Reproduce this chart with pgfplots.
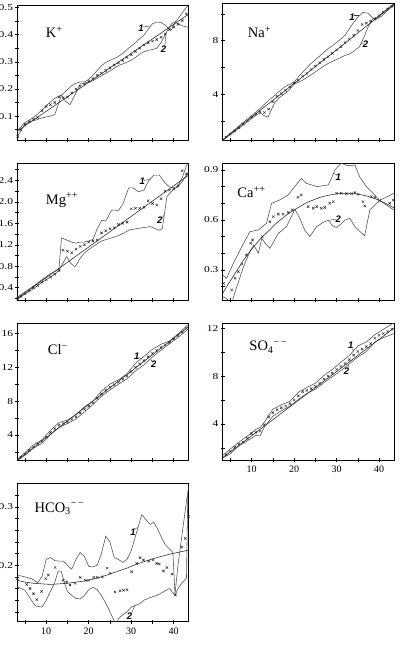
\documentclass[border=0pt]{standalone}
\usepackage{fontspec}
\setmainfont{Liberation Serif}
\newfontfamily\labfont{Liberation Sans}
\usepackage{graphicx}
\usepackage{pgfplots}
\pgfplotsset{compat=1.18}
\newcommand\sx[1]{\scalebox{1.28}[1]{#1}}

\pgfplotsset{
  panel/.style={
    scale only axis, width=171.3pt,
    xmin=3.2, xmax=43.5,
    xtick={10,20,30,40}, minor xtick={5,15,25,35}, xticklabels={},
    tick align=center, xtick pos=bottom, ytick pos=left,
    major tick length=4pt, minor tick length=4pt,
    tick style={black, line width=0.5pt},
    axis line style={black, line width=0.7pt},
    xticklabel style={font=\fontsize{10}{12}\selectfont, inner sep=1pt, yshift=-3pt},
    yticklabel style={font=\fontsize{9}{10}\selectfont, inner sep=2pt},
    /pgf/number format/assume math mode=true,
  },
  bnd/.style={no markers, line width=0.55pt, draw=black!70, line join=round},
  fitl/.style={no markers, line width=0.55pt, draw=black!85},
  pts/.style={only marks, mark=x, mark size=1.7pt, mark options={line width=0.45pt, draw=black!85}},
}
\tikzset{
  lab/.style={font=\labfont\bfseries\itshape\fontsize{9.5}{10}\selectfont, inner sep=0pt},
  ttl/.style={anchor=west, inner sep=0pt, font=\fontsize{14.5}{16}\selectfont},
  ldr/.style={line width=0.4pt, black!80},
}

\begin{document}
\begin{tikzpicture}

% ---------------- K+ ----------------
\begin{axis}[panel, at={(17.3pt,505pt)}, anchor=south west, height=135pt,
  ymin=0.012, ymax=0.509,
  ytick={0.1,0.2,0.3,0.4,0.5}, yticklabels={\sx{0.1},\sx{0.2},\sx{0.3},\sx{0.4},\sx{0.5}},
  minor ytick={0.05,0.15,0.25,0.35,0.45}]
\addplot[bnd] coordinates {(3.2,0.045) (4,0.06) (5,0.076) (6,0.085) (7,0.095) (8,0.108) (9,0.122) (10,0.138) (11,0.152) (12,0.165) (13,0.174) (13.6,0.177) (15,0.198) (16.5,0.218) (18,0.226) (19,0.226) (20,0.235) (21,0.25) (22,0.268) (23,0.285) (24,0.298) (25,0.305) (26,0.312) (27,0.32) (28,0.33) (29,0.345) (30,0.358) (31,0.37) (32,0.385) (33,0.398) (34,0.42) (35,0.44) (36,0.446) (37,0.445) (38,0.435) (38.8,0.423) (39.5,0.418) (40.4,0.447) (41,0.44) (42,0.433) (43,0.428) (43.5,0.426)};
\addplot[bnd] coordinates {(3.2,0.024) (4,0.045) (5,0.068) (6,0.078) (7,0.083) (8,0.088) (9,0.093) (10,0.097) (11,0.1) (12,0.105) (13,0.15) (13.6,0.177) (14.5,0.155) (15.6,0.142) (17,0.185) (18,0.218) (19,0.222) (20,0.225) (21,0.23) (22,0.24) (23,0.248) (24,0.258) (25,0.266) (26,0.276) (27,0.286) (28,0.292) (29,0.298) (30,0.306) (31,0.316) (32,0.328) (33,0.337) (34,0.342) (35,0.345) (36,0.35) (37,0.37) (38,0.4) (38.8,0.423) (39.5,0.44) (40.4,0.447) (41,0.458) (42,0.48) (43,0.5) (43.5,0.51)};
\addplot[fitl] coordinates {(3.2,0.045) (43.5,0.475)};
\addplot[pts] coordinates {(3.3,0.024) (4,0.05) (5,0.07) (6,0.08) (7,0.088) (8,0.095) (9,0.12) (10,0.135) (11,0.142) (12,0.15) (13,0.17) (14,0.168) (15,0.17) (16,0.185) (17,0.2) (18,0.21) (19,0.218) (20,0.228) (21,0.238) (22,0.25) (23,0.258) (24,0.268) (25,0.278) (26,0.288) (27,0.296) (28,0.305) (29,0.316) (30,0.326) (31,0.338) (32,0.35) (33,0.362) (34,0.37) (35,0.376) (36,0.382) (37,0.39) (38,0.402) (39,0.418) (40,0.428) (41,0.438) (42,0.452) (43,0.476)};
\node[ttl] at (rel axis cs:0.166,0.8) {K\textsuperscript{+}};
\node[lab] at (32.3,0.425) {1};
\draw[ldr] (32.8,0.428) -- (34.5,0.432);
\node[lab] at (37.6,0.345) {2};
\draw[ldr] (37.9,0.358) -- (38.2,0.405);
\end{axis}

% ---------------- Na+ ----------------
\begin{axis}[panel, at={(222.7pt,505pt)}, anchor=south west, height=136.7pt,
  ymin=0.6, ymax=10.78,
  ytick={4,8}, yticklabels={\sx{4},\sx{8}}, minor ytick={2,6,10}]
\addplot[bnd] coordinates {(3.2,0.62) (5,1.1) (8,1.9) (11,2.68) (12,2.95) (13,3.25) (14,3.55) (15,3.8) (16,4.1) (17,4.35) (18,4.6) (19,4.75) (20,4.9) (21,5.3) (22,5.65) (24,6.3) (26,6.85) (28,7.4) (30,7.85) (32,8.4) (33,8.9) (34,9.35) (35,9.75) (36.2,10.1) (37.4,10.04) (38.6,9.66) (39.5,9.75) (40.5,10.0) (42,10.4) (43.5,10.75)};
\addplot[bnd] coordinates {(3.2,0.58) (5,1.0) (8,1.7) (11,2.45) (12,2.62) (13,2.4) (13.9,2.3) (14.7,2.9) (15.5,3.4) (16.5,3.75) (18,4.1) (19,4.4) (20,4.75) (22,5.05) (24,5.45) (26,5.9) (28,6.3) (30,6.6) (32,6.9) (33,7.0) (34,7.2) (35.4,7.55) (36.5,8.3) (37.5,9.1) (38.6,9.66) (39.5,9.6) (40.5,9.8) (42,10.25) (43.5,10.65)};
\addplot[fitl] coordinates {(3.2,0.6) (43.5,10.7)};
\addplot[pts] coordinates {(3.3,0.62) (4,0.82) (5,1.05) (6,1.28) (7,1.52) (8,1.78) (9,2.05) (10,2.3) (11,2.52) (12,2.7) (13,2.65) (14,2.9) (15,3.45) (16,3.85) (17,4.05) (18,4.3) (19,4.55) (20,4.85) (21,5.05) (22,5.35) (23,5.55) (24,5.85) (25,6.1) (26,6.35) (27,6.6) (28,6.8) (29,7.05) (30,7.3) (31,7.55) (32,7.85) (33,8.1) (34,8.4) (35,8.75) (36,9.2) (37,9.3) (38,9.45) (39,9.6) (40,9.85) (41,10.1) (42,10.35) (43,10.55)};
\node[ttl] at (rel axis cs:0.146,0.79) {Na\textsuperscript{+}};
\node[lab] at (33.6,9.75) {1};
\draw[ldr] (34.0,9.9) -- (35.3,9.9);
\node[lab] at (36.8,7.7) {2};
\draw[ldr] (36.4,7.75) -- (35.8,7.78);
\end{axis}

% ---------------- Mg++ ----------------
\begin{axis}[panel, at={(17.3pt,345pt)}, anchor=south west, height=136.7pt,
  ymin=0.17, ymax=2.72,
  ytick={0.4,0.8,1.2,1.6,2.0,2.4}, yticklabels={\sx{0.4},\sx{0.8},\sx{1.2},\sx{1.6},\sx{2.0},\sx{2.4}},
  minor ytick={0.2,0.6,1.0,1.4,1.8,2.2,2.6}]
\addplot[bnd] coordinates {(3.2,0.22) (5,0.32) (7,0.43) (9,0.55) (11,0.66) (12,0.7) (13,0.75) (13.6,1.33) (14.5,1.3) (16,1.25) (17,1.23) (18,1.25) (19,1.25) (20,1.27) (21,1.3) (22,1.5) (23.1,1.66) (24,1.64) (25.4,1.85) (27,1.84) (28,1.95) (29.4,2.26) (30.5,2.26) (31.7,2.19) (33,2.22) (34,2.38) (35.3,2.5) (36.6,2.5) (38,2.35) (39,2.28) (40,2.26) (41,2.3) (42,2.45) (43,2.68) (43.5,2.7)};
\addplot[bnd] coordinates {(3.2,0.18) (5,0.28) (7,0.38) (9,0.5) (11,0.6) (12,0.65) (13,0.72) (14.8,0.98) (15.8,0.85) (16.8,0.79) (18,0.95) (19,1.05) (20.3,1.13) (22,1.22) (23,1.27) (25,1.32) (27,1.37) (29.7,1.48) (32,1.51) (34.5,1.54) (36.5,1.47) (37.3,1.5) (38.4,2.1) (40,2.24) (41,2.28) (42,2.38) (43,2.5) (43.5,2.56)};
\addplot[fitl] coordinates {(3.2,0.2) (43.5,2.5)};
\addplot[pts] coordinates {(3.3,0.2) (4,0.24) (5,0.29) (6,0.34) (7,0.4) (8,0.44) (9,0.5) (10,0.55) (11,0.6) (12,0.65) (13,0.72) (14,1.1) (15,1.08) (16,1.05) (17,1.12) (18,1.17) (19,1.2) (20,1.25) (21,1.27) (22,1.29) (23,1.42) (24,1.46) (25,1.5) (26,1.52) (27,1.58) (28,1.6) (29,1.62) (30,1.87) (31,1.88) (32,1.88) (33,1.9) (34,2.02) (35,1.97) (36,1.94) (37,2.06) (38,2.2) (39,2.22) (40,2.24) (41,2.3) (42,2.58) (43,2.52)};
\node[ttl] at (rel axis cs:0.166,0.73) {Mg\textsuperscript{++}};
\node[lab] at (32.6,2.38) {1};
\draw[ldr] (33.0,2.4) -- (34.3,2.42);
\node[lab] at (36.7,1.65) {2};
\draw[ldr] (37.1,1.68) -- (37.7,1.75);
\end{axis}

% ---------------- Ca++ ----------------
\begin{axis}[panel, at={(222.7pt,345pt)}, anchor=south west, height=136.7pt,
  ymin=0.12, ymax=0.94,
  ytick={0.3,0.6,0.9}, yticklabels={\sx{0.3},\sx{0.6},\sx{0.9}},
  minor ytick={0.2,0.4,0.5,0.7,0.8}]
\addplot[bnd] coordinates {(3.2,0.27) (4.1,0.25) (5.7,0.34) (7.7,0.44) (9.6,0.53) (11.6,0.54) (13.5,0.58) (14.7,0.7) (16.6,0.72) (18.6,0.75) (21.7,0.85) (22.9,0.82) (25.3,0.8) (28,0.81) (28.8,0.85) (29.6,0.9) (30.3,0.92) (31.1,0.94) (32.7,0.925) (34.3,0.93) (35.4,0.86) (37,0.8) (38.6,0.76) (40.1,0.718) (41.7,0.69) (43.5,0.66)};
\addplot[bnd] coordinates {(3.2,0.14) (4,0.13) (5.3,0.1) (6,0.16) (8.1,0.32) (9.6,0.41) (10.5,0.45) (11.6,0.4) (12.4,0.49) (13.2,0.46) (14.3,0.43) (16.3,0.52) (18.2,0.56) (20.2,0.665) (21.5,0.6) (22.5,0.54) (23.7,0.5) (25.3,0.56) (26.5,0.58) (28,0.6) (29,0.565) (30,0.555) (31,0.575) (32,0.6) (33.1,0.61) (34.3,0.56) (36.6,0.504) (37.8,0.66) (40.1,0.718) (41.5,0.735) (43.5,0.76)};
\addplot[fitl] coordinates {(3.2,0.16) (4,0.195) (5,0.235) (6,0.275) (7,0.315) (8,0.355) (9,0.39) (10,0.425) (11,0.455) (12,0.485) (13,0.51) (14,0.535) (15,0.56) (16,0.585) (17,0.605) (18,0.625) (19,0.645) (20,0.66) (21,0.675) (22,0.69) (23,0.705) (24,0.715) (25,0.725) (26,0.735) (27,0.742) (28,0.748) (29,0.753) (30,0.757) (31,0.759) (32,0.76) (33,0.76) (34,0.758) (35,0.755) (36,0.75) (37,0.744) (38,0.737) (39,0.728) (40,0.718) (41,0.706) (42,0.693) (43,0.68) (43.5,0.672)};
\addplot[pts] coordinates {(3.4,0.22) (5.3,0.18) (6.1,0.25) (6.9,0.29) (7.7,0.336) (8.8,0.39) (9.8,0.46) (10.2,0.48) (12.5,0.5) (14.3,0.59) (15.1,0.62) (16.3,0.635) (17.4,0.635) (18.6,0.645) (19.6,0.66) (20.9,0.736) (21.7,0.75) (23.3,0.68) (24.5,0.67) (25.3,0.68) (26.4,0.67) (27.2,0.675) (28.4,0.7) (29.2,0.71) (30,0.76) (31.1,0.76) (32.3,0.758) (33.5,0.758) (34.3,0.764) (35,0.754) (36.2,0.71) (36.6,0.684) (38.2,0.74) (39,0.736) (40.1,0.716) (42.5,0.7) (43.3,0.72)};
\node[ttl] at (rel axis cs:0.085,0.79) {Ca\textsuperscript{++}};
\node[lab] at (30.4,0.855) {1};
\draw[ldr] (30.0,0.87) -- (29.3,0.88);
\node[lab] at (30.4,0.605) {2};
\draw[ldr] (29.9,0.605) -- (28.3,0.598);
\end{axis}

% ---------------- Cl- ----------------
\begin{axis}[panel, at={(17.3pt,185pt)}, anchor=south west, height=136.7pt,
  ymin=1.05, ymax=17.2,
  ytick={4,8,12,16}, yticklabels={\sx{4},\sx{8},\sx{12},\sx{16}}, minor ytick={2,6,10,14}]
\addplot[bnd] coordinates {(3.2,1.10) (5,1.90) (7,2.84) (9,3.42) (11,4.55) (13,5.48) (15,5.76) (17,6.40) (19,7.33) (21,8.01) (23,9.19) (25,10.02) (27,10.51) (29,11.24) (31,12.47) (33,13.30) (35,14.13) (37,14.72) (39,15.10) (41,15.93) (43,16.86) (43.5,17.11)};
\addplot[bnd] coordinates {(3.2,1.00) (5,1.60) (7,2.44) (9,3.02) (11,4.05) (13,4.88) (15,5.36) (17,5.90) (19,6.73) (21,7.61) (23,8.59) (25,9.32) (27,10.01) (29,10.64) (31,11.57) (33,12.30) (35,13.23) (37,14.02) (39,14.80) (41,15.53) (43,16.36) (43.5,16.51)};
\addplot[fitl] coordinates {(3.2,1.05) (43.5,16.81)};
\addplot[pts] coordinates {(3,1.0) (4,1.4) (5,1.75) (6,2.2) (7,2.6) (8,2.95) (9,3.25) (10,3.75) (11,4.3) (12,4.75) (13,5.15) (14,5.35) (15,5.55) (16,5.85) (17,6.15) (18,6.6) (19,7.05) (20,7.4) (21,7.8) (22,8.35) (23,8.85) (24,9.3) (25,9.65) (26,9.95) (27,10.25) (28,10.6) (29,10.95) (30,11.5) (31,12.0) (32,12.4) (33,12.8) (34,13.25) (35,13.65) (36,14.0) (37,14.35) (38,14.65) (39,14.95) (40,15.35) (41,15.75) (42,16.15) (43,16.6)};
\node[ttl] at (rel axis cs:0.178,0.805) {Cl\textsuperscript{−}};
\node[lab] at (31.3,13.3) {1};
\draw[ldr] (31.8,13.15) -- (32.5,13.0);
\node[lab] at (35.3,12.35) {2};
\draw[ldr] (35.0,12.6) -- (34.6,12.95);
\end{axis}

% ---------------- SO4-- ----------------
\begin{axis}[panel, at={(222.7pt,185pt)}, anchor=south west, height=136.7pt,
  ymin=1.0, ymax=12.4,
  ytick={4,8,12}, yticklabels={\sx{4},\sx{8},\sx{12}}, minor ytick={2,6,10},
  xticklabels={10,20,30,40}]
\addplot[bnd] coordinates {(3.2,1.37) (5,1.92) (7,2.48) (9,3.0) (11,3.55) (12,3.71) (13,4.15) (15,5.25) (17,5.6) (19,5.9) (21,6.65) (23,7.05) (25,7.4) (27,8.05) (29,8.55) (31,9.15) (33,9.72) (35,10.5) (37,10.85) (39,11.45) (41,11.9) (43.5,12.45)};
\addplot[bnd] coordinates {(3.2,1.17) (5,1.52) (7,2.18) (9,2.6) (11,3.05) (12,3.01) (13,3.75) (15,4.65) (17,5.1) (19,5.5) (21,6.05) (23,6.55) (25,6.9) (27,7.45) (29,7.95) (31,8.45) (33,9.02) (35,9.6) (37,10.05) (39,10.85) (41,11.2) (43.5,11.55)};
\addplot[fitl] coordinates {(3.2,1.2) (43.5,12.0)};
\addplot[pts] coordinates {(3,1.2) (4,1.45) (5,1.72) (6,2.05) (7,2.33) (8,2.5) (9,2.8) (10,3.2) (11,3.3) (12,3.4) (13,3.95) (14,4.6) (15,4.95) (16,5.2) (17,5.35) (18,5.5) (19,5.7) (20,6.0) (21,6.35) (22,6.7) (23,6.8) (24,6.95) (25,7.15) (26,7.4) (27,7.75) (28,8.0) (29,8.25) (30,8.55) (31,8.8) (32,9.05) (33,9.37) (34,9.75) (35,10.05) (36,10.25) (37,10.45) (38,10.7) (39,11.15) (40,11.4) (41,11.55) (42,11.7) (43,11.9)};
\node[ttl] at (rel axis cs:0.155,0.825) {SO\textsubscript{4}\textsuperscript{−\,−}};
\node[lab] at (33.3,10.55) {1};
\draw[ldr] (33.6,10.3) -- (34.0,10.1);
\node[lab] at (32.3,8.37) {2};
\draw[ldr] (32.6,8.62) -- (32.9,8.95);
\end{axis}

% ---------------- HCO3-- ----------------
\begin{axis}[panel, at={(17.3pt,23.3pt)}, anchor=south west, height=138pt,
  ymin=0.103, ymax=0.34,
  ytick={0.2,0.3}, yticklabels={\sx{0.2},\sx{0.3}},
  minor ytick={0.12,0.14,0.16,0.18,0.22,0.24,0.26,0.28,0.32},
  xticklabels={10,20,30,40}]
\addplot[bnd] coordinates {(3.2,0.183) (5,0.18) (6,0.178) (7,0.175) (8,0.17) (9,0.18) (10,0.21) (11,0.213) (12,0.208) (13,0.207) (14,0.207) (15,0.2) (16,0.193) (17,0.21) (18,0.222) (19,0.215) (20,0.198) (21,0.197) (22,0.2) (23,0.22) (24,0.25) (25,0.24) (26,0.213) (27,0.21) (28,0.205) (29,0.21) (30,0.225) (31,0.25) (32.5,0.287) (33.5,0.278) (34.5,0.27) (35.3,0.274) (36,0.265) (37,0.25) (38,0.235) (39,0.228) (39.8,0.222) (40.3,0.15) (41,0.2) (42,0.255) (43,0.31) (43.5,0.335)};
\addplot[bnd] coordinates {(3.2,0.163) (5,0.157) (6.5,0.14) (7.5,0.13) (9,0.128) (10,0.14) (11,0.155) (12,0.17) (12.8,0.19) (13.5,0.19) (14.5,0.165) (15,0.155) (16,0.148) (17,0.143) (18,0.142) (19,0.148) (20,0.158) (21,0.162) (22,0.158) (23,0.148) (24,0.135) (25,0.12) (26,0.104) (26.5,0.1) (27,0.108) (28,0.115) (29,0.12) (30,0.128) (31,0.131) (32,0.134) (33,0.14) (34,0.143) (35,0.146) (36,0.148) (37,0.152) (38,0.156) (39,0.16) (40.3,0.148) (41,0.16) (42,0.17) (43,0.178) (43.3,0.32)};
\addplot[fitl] coordinates {(3.2,0.174) (5,0.171) (7,0.169) (9,0.168) (11,0.167) (13,0.168) (15,0.169) (17,0.171) (19,0.173) (21,0.176) (23,0.18) (25,0.185) (27,0.19) (29,0.195) (31,0.201) (33,0.206) (35,0.211) (37,0.215) (39,0.219) (41,0.222) (43.5,0.226)};
\addplot[pts] coordinates {(3.2,0.177) (5.4,0.167) (6.2,0.16) (7,0.151) (7.8,0.141) (8.9,0.155) (9.9,0.177) (10.5,0.183) (12.1,0.196) (14,0.174) (14.8,0.171) (15.6,0.166) (16.8,0.169) (18,0.179) (19.2,0.174) (20,0.174) (21.2,0.179) (22,0.179) (23.2,0.18) (24.3,0.195) (25,0.186) (26.2,0.154) (27.4,0.156) (28.2,0.157) (29,0.158) (30.1,0.189) (31.3,0.203) (32.1,0.213) (32.9,0.209) (34.1,0.207) (35.1,0.209) (36,0.203) (36.6,0.202) (37.6,0.19) (38.4,0.196) (39.6,0.185) (40.4,0.149) (41.9,0.231) (42.7,0.246) (43.5,0.284)};
\node[ttl] at (rel axis cs:0.1,0.82) {HCO\textsubscript{3}\textsuperscript{−\,−}};
\node[lab] at (30.4,0.257) {1};
\draw[ldr] (30.9,0.262) -- (31.5,0.265);
\node[lab] at (29.6,0.113) {2};
\draw[ldr] (30.1,0.118) -- (30.8,0.13);
\end{axis}

\pgfresetboundingbox
\path[use as bounding box] (0,0) rectangle (399pt,645pt);
\end{tikzpicture}
\end{document}
